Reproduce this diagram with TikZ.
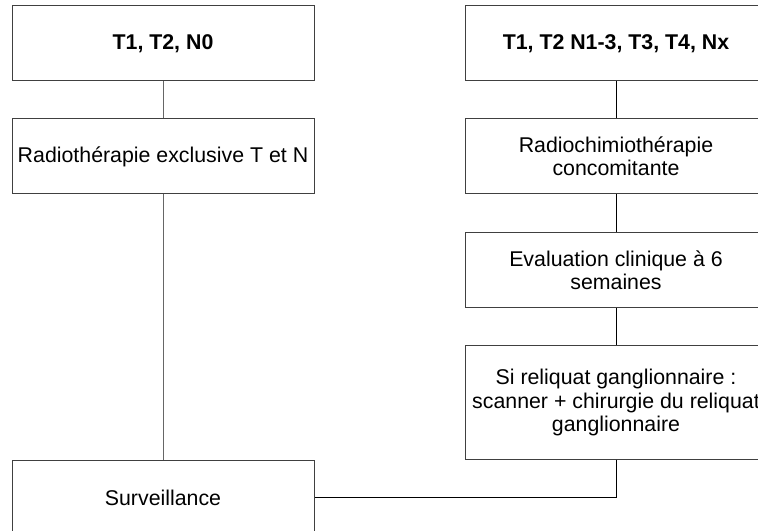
\documentclass[tikz,border=0pt]{standalone}
\usepackage{fontspec}
\setmainfont{Liberation Sans}
\begin{document}
\begin{tikzpicture}[x=0.75pt,y=-0.75pt,
  box/.style={draw=black!75, line width=0.75pt, rectangle, inner sep=0pt,
    minimum width=226.5pt, minimum height=56.25pt, align=center,
    font=\fontsize{16}{17.6}\selectfont},
  tallbox/.style={box, minimum height=84.75pt},
  leftlink/.style={draw=black!60, line width=0.75pt},
  rightlink/.style={draw=black, line width=0.75pt}]
\useasboundingbox (0,0) rectangle (758,531);
\fill[white] (0,0) rectangle (758,531);
\clip (0,0) rectangle (758,531);
\node[box] (L1) at (163,43.5) {\textbf{T1, T2, N0}};
\node[box] (L2) at (163,156.5) {Radiothérapie exclusive T et N};
\node[box] (S) at (163,497.5) {Surveillance};
\node[box] (R1) at (616,43.5) {\textbf{T1, T2 N1-3, T3, T4, Nx}};
\node[box] (R2) at (616,156.5) {Radiochimiothérapie\\concomitante};
\node[box] (R3) at (616,270.5) {Evaluation clinique à 6\\semaines};
\node[tallbox] (R4) at (616,402.5) {Si reliquat ganglionnaire :\\scanner + chirurgie du reliquat\\ganglionnaire};
\draw[leftlink] (L1.south) -- (L2.north);
\draw[leftlink] (L2.south) -- (S.north);
\draw[rightlink] (R1.south) -- (R2.north);
\draw[rightlink] (R2.south) -- (R3.north);
\draw[rightlink] (R3.south) -- (R4.north);
\draw[rightlink] (R4.south) -- (R4.south |- S.east) -- (S.east);
\end{tikzpicture}
\end{document}
